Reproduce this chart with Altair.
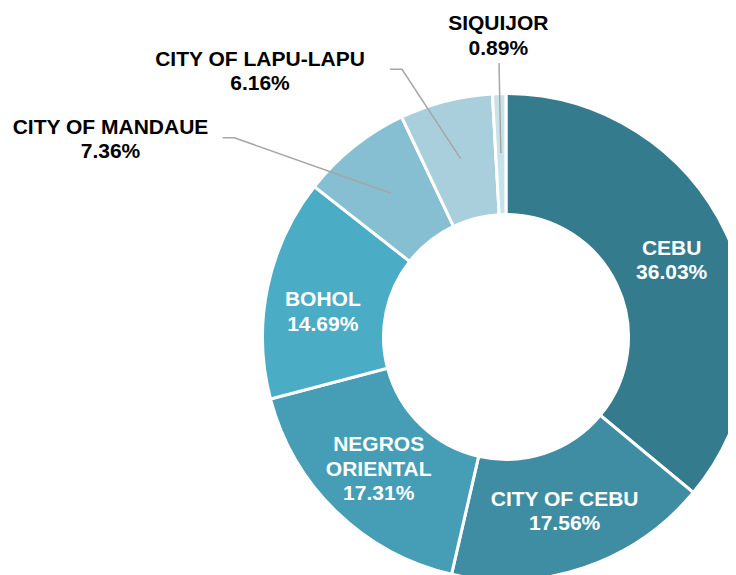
import math
import altair as alt
import pandas as pd

# ---------------- data ----------------
names = ["CEBU", "CITY OF CEBU", "NEGROS ORIENTAL", "BOHOL",
         "CITY OF MANDAUE", "CITY OF LAPU-LAPU", "SIQUIJOR"]
shares = [36.03, 17.56, 17.31, 14.69, 7.36, 6.16, 0.89]
label_names = ["CEBU", "CITY OF CEBU", "NEGROS\nORIENTAL", "BOHOL",
               "CITY OF MANDAUE", "CITY OF LAPU-LAPU", "SIQUIJOR"]
inside = [True, True, True, True, False, False, False]

# ---------------- style / layout ----------------
colors = ["#357B8E", "#3E8DA3", "#459EB6", "#4BACC6",
          "#86BFD2", "#A9CFDC", "#C8E2EA"]
W, H = 720, 567
CX, CY = 498, 329          # pie centre (chart coordinates)
R_OUT, R_IN = 243.5, 122.5
R_LABEL = 183
R_LINE = 184
FS = 21
LH = 24.5
FONT = "Liberation Sans"
LINE_COLOR = "#A6A6A6"

inside_nudge = {"BOHOL": (-4, 11)}
outside_layout = {
    "CITY OF MANDAUE": {"label": (-395.5, -198.7), "pts": [(-283.3, -199.3), (-271.7, -199.3)]},
    "CITY OF LAPU-LAPU": {"label": (-246.0, -266.3), "pts": [(-116.0, -267.7), (-104.0, -267.7)]},
    "SIQUIJOR": {"label": (-7.7, -302.1), "pts": [(-7.0, -274.0)]},
}

total = sum(shares)
arc_df = pd.DataFrame({"name": names, "share": shares, "idx": list(range(len(names)))})

in_rows, out_rows, line_rows = [], [], []
cum = 0.0
for n, s, lbl, ins in zip(names, shares, label_names, inside):
    mid = (cum + s / 2) / total * 2 * math.pi
    cum += s
    text = f"{lbl}\n{s:.2f}%"
    nlines = text.count("\n") + 1
    if ins:
        dx, dy = inside_nudge.get(n, (0, 0))
        bx = CX + R_LABEL * math.sin(mid) + dx
        by = CY - R_LABEL * math.cos(mid) + dy
        in_rows.append({"x": bx, "y": by - (nlines - 1) * LH / 2 + 0.716 * FS / 2, "t": text})
    else:
        lay = outside_layout[n]
        bx = CX + lay["label"][0]
        by = CY + lay["label"][1]
        out_rows.append({"x": bx, "y": by - (nlines - 1) * LH / 2 + 0.716 * FS / 2, "t": text})
        pts = [(CX + px, CY + py) for px, py in lay["pts"]]
        pts.append((CX + R_LINE * math.sin(mid), CY - R_LINE * math.cos(mid)))
        for k, (px, py) in enumerate(pts):
            line_rows.append({"name": n, "step": k, "x": px, "y": py})

in_df = pd.DataFrame(in_rows)
out_df = pd.DataFrame(out_rows)
line_df = pd.DataFrame(line_rows)

xs = alt.Scale(domain=[0, W], range=[0, W])
ys = alt.Scale(domain=[0, H], range=[0, H])

arcs = alt.Chart(arc_df).mark_arc(
    outerRadius=R_OUT, innerRadius=R_IN, stroke="white", strokeWidth=3
).encode(
    theta=alt.Theta("share:Q", stack=True),
    order=alt.Order("idx:Q"),
    color=alt.Color("name:N", scale=alt.Scale(domain=names, range=colors), legend=None),
    x=alt.value(CX),
    y=alt.value(CY),
)

lines = alt.Chart(line_df).mark_line(color=LINE_COLOR, strokeWidth=1.5).encode(
    x=alt.X("x:Q", scale=xs, axis=None),
    y=alt.Y("y:Q", scale=ys, axis=None),
    detail="name:N",
    order="step:Q",
)

in_text = alt.Chart(in_df).mark_text(
    font=FONT, fontSize=FS, fontWeight="bold", color="white",
    lineBreak="\n", lineHeight=LH, align="center", baseline="alphabetic"
).encode(
    x=alt.X("x:Q", scale=xs, axis=None),
    y=alt.Y("y:Q", scale=ys, axis=None),
    text="t:N",
)

out_text = alt.Chart(out_df).mark_text(
    font=FONT, fontSize=FS, fontWeight="bold", color="black",
    lineBreak="\n", lineHeight=LH, align="center", baseline="alphabetic"
).encode(
    x=alt.X("x:Q", scale=xs, axis=None),
    y=alt.Y("y:Q", scale=ys, axis=None),
    text="t:N",
)

chart = alt.layer(arcs, lines, in_text, out_text).properties(
    width=W, height=H, padding=0, autosize=alt.AutoSizeParams(type="none"),
    background="white"
).configure_view(stroke=None)

chart.save("out.html", embed_options={"renderer": "svg", "actions": False})
